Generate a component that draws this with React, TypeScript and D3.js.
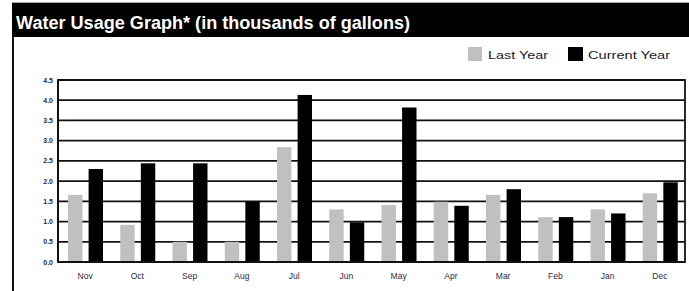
import React from "react";
import * as d3 from "d3";

const months = ["Nov", "Oct", "Sep", "Aug", "Jul", "Jun", "May", "Apr", "Mar", "Feb", "Jan", "Dec"];
const lastYear = [1.66, 0.92, 0.5, 0.5, 2.84, 1.3, 1.41, 1.49, 1.66, 1.11, 1.3, 1.7];
const currentYear = [2.3, 2.44, 2.44, 1.49, 4.13, 0.98, 3.82, 1.39, 1.8, 1.11, 1.2, 1.97];
const yTicks = [0, 0.5, 1, 1.5, 2, 2.5, 3, 3.5, 4, 4.5];
const seriesNames = ["Last Year", "Current Year"];
const seriesColors = ["#c0c0c0", "#000000"];

const W = 689;
const H = 291;
const plot = { left: 58, right: 685, top: 80, bottom: 262 };

const App = () => {
  const x = d3.scaleBand().domain(months).range([plot.left, plot.right]).padding(0);
  const inner = d3.scaleBand().domain(seriesNames).range([10, 45]).paddingInner(0.3);
  const y = d3.scaleLinear().domain([0, 4.5]).range([plot.bottom, plot.top]);
  const series = [lastYear, currentYear];
  const font = "'Liberation Sans', Arial, sans-serif";

  return (
    <svg width={W} height={H} style={{ position: "absolute", left: 0, top: 0 }}>
      <rect x={0} y={0} width={W} height={H} fill="#fff" />
      {/* header bar */}
      <line x1={12} x2={W} y1={2.5} y2={2.5} stroke="#aaa" strokeWidth={1} />
      <rect x={12} y={3} width={W - 12} height={34} fill="#000" />
      <text x={16} y={28.5} fill="#fff" fontFamily="'Liberation Sans Narrow', 'Liberation Sans', Arial, sans-serif"
        fontWeight="bold" fontSize={18} textLength={394} lengthAdjust="spacingAndGlyphs">
        Water Usage Graph* (in thousands of gallons)
      </text>
      <line x1={13} x2={13} y1={37} y2={H} stroke="#111" strokeWidth={2} />

      {/* legend */}
      <rect x={468} y={47} width={14} height={14} fill={seriesColors[0]} />
      <text x={488} y={59} fontFamily={font} fontSize={11.5} fill="#1a1a2a" textLength={60} lengthAdjust="spacingAndGlyphs">
        {seriesNames[0]}
      </text>
      <rect x={568} y={47} width={15} height={14} fill={seriesColors[1]} />
      <text x={588} y={59} fontFamily={font} fontSize={11.5} fill="#1a1a2a" textLength={82} lengthAdjust="spacingAndGlyphs">
        {seriesNames[1]}
      </text>

      {/* gridlines */}
      {yTicks.map((t) => (
        <line key={"g" + t} x1={plot.left} x2={plot.right} y1={y(t)} y2={y(t)} stroke="#111" strokeWidth={1.8} />
      ))}
      <rect x={plot.left} y={plot.top} width={plot.right - plot.left} height={plot.bottom - plot.top}
        fill="none" stroke="#111" strokeWidth={1.8} />

      {/* bars */}
      {months.map((m, i) => (
        <g key={m}>
          {series.map((s, k) => (
            <rect key={k} x={(x(m) ?? 0) + (inner(seriesNames[k]) ?? 0)} y={y(s[i])}
              width={inner.bandwidth()} height={plot.bottom - y(s[i])} fill={seriesColors[k]} />
          ))}
        </g>
      ))}
      <line x1={plot.left} x2={plot.right} y1={plot.bottom} y2={plot.bottom} stroke="#111" strokeWidth={2} />
      <line x1={plot.left} x2={plot.left} y1={plot.top} y2={plot.bottom} stroke="#111" strokeWidth={2} />

      {/* y labels */}
      {yTicks.map((t) => (
        <text key={"l" + t} x={53} y={y(t) + 2.5} textAnchor="end" fontFamily={font} fontSize={7}
          fontWeight="bold" fill="#2a2a44">
          {t.toFixed(1)}
        </text>
      ))}
      {/* x labels */}
      {months.map((m) => (
        <text key={"x" + m} x={(x(m) ?? 0) + x.bandwidth() / 2 + 1} y={279} textAnchor="middle"
          fontFamily={font} fontSize={8.5} fill="#2a2a44">
          {m}
        </text>
      ))}
    </svg>
  );
};

export default App;
